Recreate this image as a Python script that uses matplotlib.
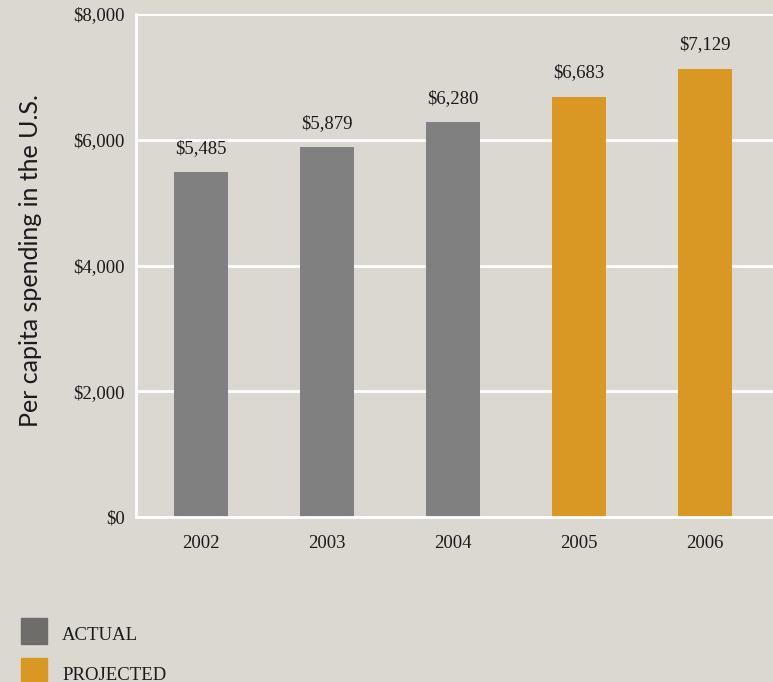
"""Per capita health spending, actual vs projected."""

import matplotlib.pyplot as plt
from matplotlib.patches import Rectangle
from matplotlib.ticker import FuncFormatter

years = ["2002", "2003", "2004", "2005", "2006"]
spending = [5485, 5879, 6280, 6683, 7129]
status = ["actual", "actual", "actual", "projected", "projected"]
y_ticks = [0, 2000, 4000, 6000, 8000]

BG = "#dbd8d2"
BAR_COLORS = {"actual": "#808080", "projected": "#d99724"}
LEGEND_COLORS = {"actual": "#6e6d69", "projected": "#d99724"}
SERIF = ["Liberation Serif", "DejaVu Serif"]

W, H = 773, 682
fig = plt.figure(figsize=(W / 100, H / 100), dpi=100, facecolor=BG)
ax = fig.add_axes([136 / W, 1 - 517 / H, 637 / W, 503 / H], facecolor=BG)

x = range(len(years))
bars = ax.bar(x, spending, width=0.43, color=[BAR_COLORS[s] for s in status], zorder=3)

for rect, val in zip(bars, spending):
    ax.annotate(f"${val:,}", (rect.get_x() + rect.get_width() / 2, val),
                xytext=(0, 11), textcoords="offset points", ha="center", va="bottom",
                fontsize=13.5, family=SERIF, color="#1a1a1a")

ax.set_xlim(-0.516, 4.54)
ax.set_ylim(0, 8000)
ax.set_xticks(list(x))
ax.set_xticklabels(years)
ax.set_yticks(y_ticks)
ax.yaxis.set_major_formatter(FuncFormatter(lambda v, _: f"${v:,.0f}"))
ax.grid(axis="y", color="white", linewidth=2, zorder=0)
ax.tick_params(length=0, labelsize=13.5, colors="#1a1a1a")
ax.tick_params(axis="x", pad=13)
ax.tick_params(axis="y", pad=8)
for lab in ax.get_xticklabels() + ax.get_yticklabels():
    lab.set_family(SERIF)

for side in ("top", "right"):
    ax.spines[side].set_visible(False)
for side in ("left", "bottom"):
    ax.spines[side].set_color("white")
    ax.spines[side].set_linewidth(2)
    ax.spines[side].set_zorder(4)

ax.set_ylabel("Per capita spending in the U.S.", fontsize=18, family=["Lato", "DejaVu Sans"],
              color="#1a1a1a")
ax.yaxis.set_label_coords(-94 / 637, 0.509)

# legend squares drawn in figure pixels
for i, (key, label) in enumerate([("actual", "ACTUAL"), ("projected", "PROJECTED")]):
    top = 618 + 40 * i
    fig.add_artist(Rectangle((21 / W, 1 - (top + 26) / H), 26 / W, 26 / H,
                             transform=fig.transFigure, color=LEGEND_COLORS[key]))
    fig.text(62 / W, 1 - (top + 17) / H, label, fontsize=13.5, family=SERIF,
             va="center", ha="left", color="#1a1a1a")

fig.savefig("out.png", dpi=100, facecolor=BG)
